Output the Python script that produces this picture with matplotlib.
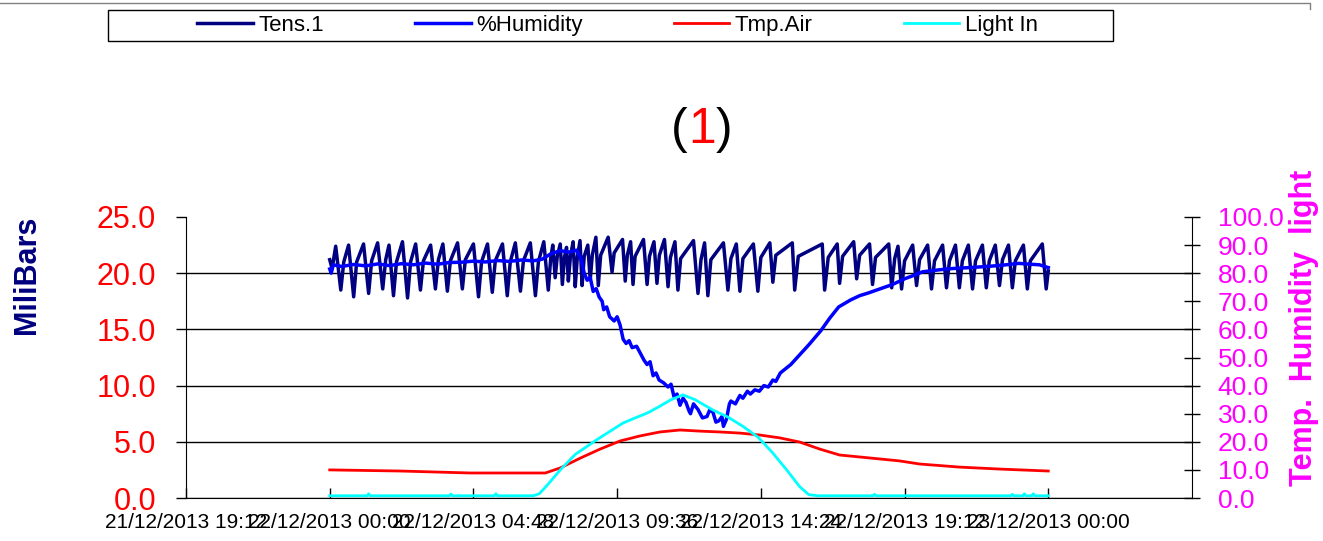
import matplotlib
matplotlib.use("Agg")
import matplotlib.pyplot as plt
from matplotlib.patches import Rectangle
from matplotlib.lines import Line2D

plt.rcParams['font.family'] = ['Liberation Sans', 'DejaVu Sans']

# x values are hours after 22/12/2013 00:00
tick_hours = [-4.8, 0.0, 4.8, 9.6, 14.4, 19.2, 24.0]
tick_labels = ["21/12/2013 19:12", "22/12/2013 00:00", "22/12/2013 04:48",
               "22/12/2013 09:36", "22/12/2013 14:24", "22/12/2013 19:12",
               "23/12/2013 00:00"]

series_names = ["Tens.1", "%Humidity", "Tmp.Air", "Light In"]

# Tens.1 (MiliBars, left axis): peak / trough / recovery per cycle
tens_hours = [
    0.00, 0.08, 0.20,
    0.37, 0.47, 0.63, 0.80, 0.90, 1.13, 1.30, 1.40, 1.60,
    1.77, 1.87, 1.98, 2.13, 2.23, 2.43, 2.60, 2.70, 2.87,
    3.03, 3.13, 3.37, 3.53, 3.63, 3.78, 3.93, 4.03, 4.27,
    4.43, 4.53, 4.80, 4.97, 5.07, 5.27, 5.43, 5.53, 5.77,
    5.93, 6.03, 6.20, 6.37, 6.47, 6.70, 6.87, 6.97, 7.15,
    7.30, 7.38, 7.45, 7.53, 7.60, 7.70, 7.77, 7.84, 7.91,
    7.97, 8.04, 8.13, 8.20, 8.27, 8.36, 8.43, 8.50, 8.62,
    8.70, 8.77, 8.89, 8.97, 9.05, 9.30, 9.43, 9.50, 9.78,
    9.87, 9.94, 10.05, 10.13, 10.20, 10.48, 10.60, 10.68, 10.83,
    10.93, 11.01, 11.18, 11.30, 11.38, 11.53, 11.63, 11.72, 12.15,
    12.30, 12.40, 12.52, 12.63, 12.73, 13.15, 13.30, 13.40, 13.58,
    13.70, 13.80, 14.15, 14.30, 14.40, 14.70, 14.80, 14.90, 15.45,
    15.53, 15.65, 16.45, 16.53, 16.65, 16.95, 17.03, 17.13, 17.50,
    17.60, 17.70, 18.03, 18.13, 18.23, 18.67, 18.77, 18.87, 18.98,
    19.10, 19.20, 19.47, 19.60, 19.70, 19.97, 20.10, 20.20, 20.47,
    20.60, 20.70, 20.90, 21.03, 21.13, 21.33, 21.47, 21.57, 21.80,
    21.93, 22.03, 22.23, 22.37, 22.47, 22.67, 22.80, 22.90, 23.17,
    23.30, 23.40, 23.80, 23.93, 24.00,
]
tens_values = [
    21.2, 20.4, 22.4,
    18.5, 21.0, 22.5, 17.9, 21.0, 22.6, 18.2, 21.1, 22.7,
    18.6, 21.2, 22.5, 18.0, 21.0, 22.8, 17.8, 21.0, 22.6,
    18.5, 21.1, 22.5, 18.6, 21.2, 22.6, 18.4, 21.1, 22.7,
    18.6, 21.2, 22.6, 17.9, 21.0, 22.6, 18.3, 21.1, 22.6,
    18.0, 21.0, 22.7, 18.4, 21.1, 22.7, 18.0, 21.0, 22.8,
    18.5, 21.3, 22.5, 19.6, 21.5, 22.6, 19.0, 21.4, 22.3,
    19.3, 21.5, 22.8, 18.8, 21.4, 22.9, 18.9, 21.5, 22.5,
    19.4, 21.6, 23.2, 18.9, 21.6, 23.2, 20.1, 21.8, 23.0,
    19.3, 21.6, 22.8, 19.0, 21.5, 23.0, 19.0, 21.5, 22.8,
    19.1, 21.6, 23.0, 18.8, 21.4, 22.8, 18.5, 21.3, 22.9,
    18.2, 21.2, 22.7, 18.0, 21.2, 22.7, 18.5, 21.3, 22.6,
    18.4, 21.3, 22.6, 18.4, 21.4, 22.7, 19.2, 21.6, 22.7,
    18.5, 21.5, 22.6, 18.5, 21.4, 22.6, 19.1, 21.5, 22.8,
    19.5, 21.6, 22.6, 19.0, 21.4, 22.6, 18.7, 21.3, 22.4,
    18.6, 21.1, 22.5, 18.9, 21.2, 22.5, 18.6, 21.1, 22.5,
    18.7, 21.1, 22.5, 18.7, 21.1, 22.5, 18.6, 21.1, 22.5,
    18.7, 21.1, 22.5, 18.9, 21.2, 22.5, 18.7, 21.1, 22.5,
    18.6, 21.1, 22.6, 18.6, 20.2,
]

# %Humidity (right axis)
hum_hours = [0.00, 0.05, 0.12, 0.4, 0.8, 1.2, 1.6, 2.0, 2.4, 2.8, 3.2, 3.6,
             4.0, 4.4, 4.8, 5.2, 5.6, 6.0, 6.4, 6.8, 7.1, 7.4, 7.7, 8.0,
             8.25, 8.4, 8.5, 8.6, 8.7, 8.8, 8.9, 9.0, 9.1, 9.15, 9.25,
             9.35, 9.5, 9.6, 9.7, 9.8, 9.9, 10.0, 10.1, 10.25, 10.4, 10.5,
             10.6, 10.7, 10.8, 10.9, 11.0, 11.15, 11.3, 11.4, 11.5, 11.6,
             11.7, 11.8, 11.9, 12.0, 12.05, 12.15, 12.3, 12.45, 12.6, 12.7,
             12.8, 12.9, 13.0, 13.1, 13.15, 13.25, 13.35, 13.4, 13.55, 13.7,
             13.8, 13.95, 14.05, 14.2, 14.35, 14.5, 14.65, 14.8, 14.9,
             15.05, 15.4, 15.7, 16.0, 16.4, 16.7, 17.0, 17.4, 17.7, 18.0,
             18.4, 18.8, 19.2, 19.5, 19.8, 20.2, 20.6, 21.0, 21.4, 21.8,
             22.2, 22.6, 23.0, 23.4, 23.7, 24.0]
hum_values = [81.5, 80.0, 83.0, 82.4, 83.1, 82.6, 83.3, 82.7, 83.4, 83.0,
              83.6, 83.2, 83.8, 83.9, 84.3, 84.0, 84.5, 84.2, 84.7, 84.4,
              85.0, 87.0, 88.0, 87.5, 88.2, 85.0, 80.0, 77.5, 78.5, 73.5,
              74.5, 71.5, 70.0, 67.0, 68.0, 64.5, 63.0, 64.5, 61.5, 56.5,
              55.0, 56.0, 53.5, 54.0, 51.0, 49.0, 47.5, 48.5, 43.5, 44.5,
              42.0, 41.0, 39.5, 40.5, 36.0, 37.0, 33.0, 35.5, 34.0, 31.0,
              30.0, 33.5, 31.5, 28.5, 29.0, 31.5, 30.5, 27.0, 27.5, 29.0,
              25.5, 28.0, 33.5, 34.5, 33.5, 36.5, 35.5, 38.0, 37.0, 38.5,
              38.0, 40.0, 39.5, 42.0, 41.5, 44.5, 47.5, 51.0, 54.5, 59.5,
              64.0, 68.0, 70.5, 72.0, 73.0, 74.5, 76.0, 78.0, 79.2, 80.5,
              81.0, 81.5, 81.8, 82.0, 82.3, 82.6, 83.0, 83.5, 83.2, 83.0,
              82.0]

# Tmp.Air (right axis)
air_hours = [0.0, 2.37, 4.7, 7.2, 7.7, 8.37, 9.03, 9.7, 10.37, 11.03, 11.7,
             12.37, 13.03, 13.7, 14.37, 15.03, 15.7, 16.37, 17.03, 17.7,
             18.37, 19.03, 19.7, 21.03, 22.37, 24.0]
air_values = [10.0, 9.6, 8.9, 8.9, 10.7, 14.2, 17.4, 20.3, 22.1, 23.5, 24.2,
              23.8, 23.5, 23.1, 22.4, 21.4, 19.9, 17.4, 15.3, 14.6, 13.9,
              13.2, 12.1, 11.0, 10.3, 9.6]

# Light In (right axis)
light_hours = [0.0, 1.25, 1.3, 1.35, 4.0, 4.05, 4.1, 5.5, 5.55, 5.6, 6.8,
               7.0, 7.3, 7.7, 8.2, 8.9, 9.4, 9.8, 10.2, 10.6, 11.0, 11.4,
               11.8, 12.2, 12.8, 13.3, 13.8, 14.3, 14.8, 15.3, 15.7, 16.0,
               16.3, 18.15, 18.2, 18.25, 22.75, 22.8, 22.85, 23.15, 23.2,
               23.25, 23.45, 23.5, 23.55, 24.0]
light_values = [0.8, 0.8, 1.5, 0.8, 0.8, 1.4, 0.8, 0.8, 1.5, 0.8, 0.8,
                1.5, 5.0, 10.0, 15.5, 20.6, 24.0, 26.7, 28.5, 30.2, 32.5,
                35.0, 36.7, 35.0, 31.3, 28.8, 25.5, 21.7, 16.0, 9.5, 4.0,
                1.2, 0.8, 0.8, 1.3, 0.8, 0.8, 1.3, 0.8, 0.8, 1.5, 0.8, 0.8,
                1.5, 0.8, 0.8]

W, H = 1323, 541
fig = plt.figure(figsize=(W / 100, H / 100), dpi=100)
ax = fig.add_axes([186 / W, 43 / H, 1006 / W, 281 / H])
ax2 = ax.twinx()

l1, = ax.plot(tens_hours, tens_values, color='#000080', lw=2.5)
l2, = ax2.plot(hum_hours, hum_values, color='#0000FF', lw=2.5)
l3, = ax2.plot(air_hours, air_values, color='#FF0000', lw=2.0)
l4, = ax2.plot(light_hours, light_values, color='#00FFFF', lw=2.0)

ax.set_xlim(-4.8, 28.8)
ax.set_ylim(0, 25)
ax2.set_ylim(0, 100)
ax.set_xticks(tick_hours)
ax.set_xticklabels(tick_labels)
ax.set_yticks([0, 5, 10, 15, 20, 25])
ax.set_yticklabels(["%.1f" % v for v in [0, 5, 10, 15, 20, 25]])
ax2.set_yticks(range(0, 101, 10))
ax2.set_yticklabels(["%.1f" % v for v in range(0, 101, 10)])

ax.grid(axis='y', color='black', lw=1)
ax.get_ygridlines()[-1].set_visible(False)

ax.tick_params(axis='y', direction='out', length=7.5, width=1, pad=14,
               labelsize=22, labelcolor='red')
ax.tick_params(axis='x', direction='in', length=7, width=1, pad=11,
               labelsize=15)
ax2.tick_params(axis='y', direction='inout', length=12, width=1, pad=12.5,
                labelsize=19, labelcolor='#FF00FF')

ax.spines['top'].set_visible(False)
ax.spines['right'].set_visible(False)
for s in ['top', 'left', 'bottom']:
    ax2.spines[s].set_visible(False)

fig.text(27 / W, 1 - 275 / H, "MiliBars", rotation=90, ha='center',
         va='center', fontsize=22, fontweight='bold', color='#000080')
fig.text(1304 / W, 1 - 328 / H, "Temp.  Humidity  light", rotation=90,
         ha='center', va='center', fontsize=22, fontweight='bold',
         color='#FF00FF')

# title "(1)" with a red 1
ty = 1 - 130 / H
fig.text(688 / W, ty, "(", ha='right', va='center', fontsize=36)
fig.text(702 / W, ty, "1", ha='center', va='center', fontsize=36, color='red')
fig.text(716 / W, ty, ")", ha='left', va='center', fontsize=36)

fig.legend([l1, l2, l3, l4], series_names, loc='center',
           bbox_to_anchor=(617.5 / W, 1 - 25.5 / H), ncol=4, frameon=False,
           fontsize=16, handlelength=2.5, handletextpad=0.25,
           columnspacing=4.1, borderpad=0)
fig.add_artist(Rectangle((108 / W, 1 - 41 / H), 1005 / W, 31 / H,
                         transform=fig.transFigure, fill=False,
                         ec='black', lw=1))
fig.add_artist(Line2D([0, 1310 / W, 1310 / W], [1 - 3 / H, 1 - 3 / H, 1 - 9 / H],
                      transform=fig.transFigure, color='#808080', lw=1))

fig.savefig("out.png", dpi=100)
